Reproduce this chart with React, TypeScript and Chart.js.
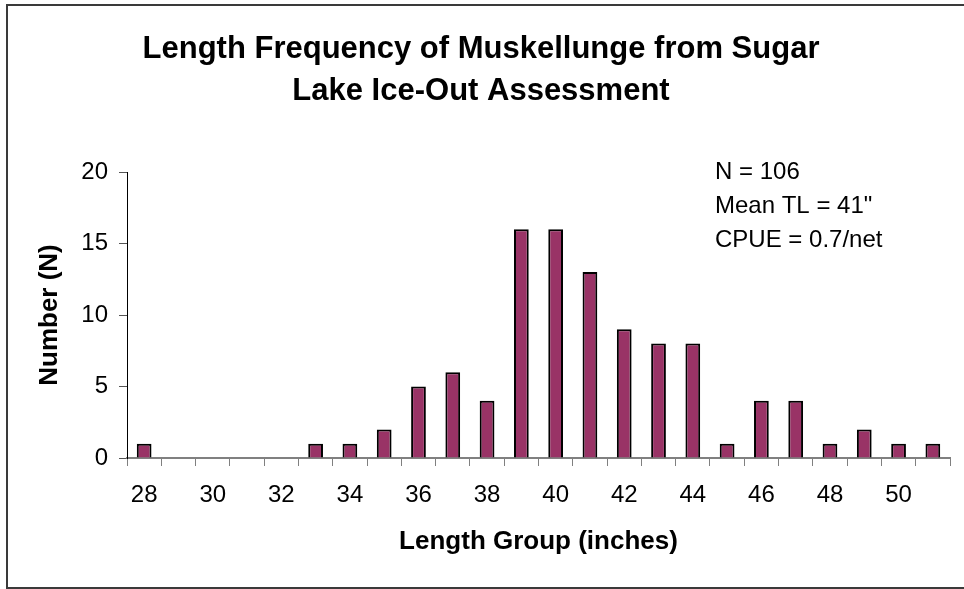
import React, { useEffect, useRef } from "react";
import { Chart, registerables } from "chart.js";

Chart.register(...registerables);

const lengthGroups = [
  "28", "29", "30", "31", "32", "33", "34", "35", "36", "37", "38", "39",
  "40", "41", "42", "43", "44", "45", "46", "47", "48", "49", "50", "51",
];
const counts = [1, 0, 0, 0, 0, 1, 1, 2, 5, 6, 4, 16, 16, 13, 9, 8, 8, 1, 4, 4, 1, 2, 1, 1];
const yTicks = [0, 5, 10, 15, 20];
const titleLines = ["Length Frequency of Muskellunge from Sugar", "Lake Ice-Out Assessment"];
const noteLines = ["N = 106", "Mean TL = 41\"", "CPUE = 0.7/net"];

const FONT = "'Liberation Sans', Arial, sans-serif";

const decorPlugin = {
  id: "decor",
  beforeDraw(chart: any) {
    const ctx = chart.ctx;
    ctx.save();
    ctx.fillStyle = "#ffffff";
    ctx.fillRect(0, 0, chart.width, chart.height);
    ctx.strokeStyle = "#3a3a3a";
    ctx.lineWidth = 2;
    ctx.strokeRect(7, 5, 1000, 583);
    ctx.restore();
  },
  afterDraw(chart: any) {
    const ctx = chart.ctx;
    ctx.save();
    ctx.fillStyle = "#000000";
    ctx.textBaseline = "alphabetic";
    ctx.textAlign = "center";
    ctx.font = `bold 31px ${FONT}`;
    ctx.fillText(titleLines[0], 481, 58);
    ctx.fillText(titleLines[1], 481, 100);
    ctx.textAlign = "left";
    ctx.font = `24px ${FONT}`;
    noteLines.forEach((t, i) => ctx.fillText(t, 715, 179 + i * 34));
    ctx.restore();
  },
};

export default function App() {
  const ref = useRef<HTMLCanvasElement | null>(null);

  useEffect(() => {
    if (!ref.current) return;
    const chart = new Chart(ref.current, {
      type: "bar",
      data: {
        labels: lengthGroups,
        datasets: [
          {
            data: counts,
            backgroundColor: "#993366",
            borderColor: "#000000",
            borderWidth: 2,
            categoryPercentage: 1,
            barPercentage: 0.43,
          },
        ],
      },
      options: {
        animation: false,
        responsive: false,
        maintainAspectRatio: false,
        layout: { padding: { top: 172, right: 14, left: 0, bottom: 0 } },
        plugins: {
          legend: { display: false },
          title: { display: false },
          tooltip: { enabled: false },
        },
        scales: {
          x: {
            offset: true,
            afterFit: (s: any) => {
              s.height = 131;
            },
            grid: {
              display: true,
              offset: true,
              drawOnChartArea: false,
              drawTicks: true,
              tickLength: 8,
              tickColor: "#808080",
              tickWidth: 1,
            },
            border: { display: true, color: "#808080", width: 2 },
            ticks: {
              autoSkip: false,
              maxRotation: 0,
              minRotation: 0,
              padding: 15,
              color: "#000000",
              font: { family: FONT, size: 24 },
              callback: (_v: any, i: number) => (i % 2 === 0 ? lengthGroups[i] : ""),
            },
            title: {
              display: true,
              text: "Length Group (inches)",
              color: "#000000",
              font: { family: FONT, size: 26, weight: "bold" },
              padding: { top: 0, bottom: 32 },
            },
          },
          y: {
            min: yTicks[0],
            max: yTicks[yTicks.length - 1],
            afterFit: (s: any) => {
              s.width = 127;
            },
            afterBuildTicks: (s: any) => {
              s.ticks = yTicks.map((v) => ({ value: v }));
            },
            grid: {
              display: true,
              drawOnChartArea: false,
              drawTicks: true,
              tickLength: 8,
              tickColor: "#555555",
              tickWidth: 1,
            },
            border: { display: true, color: "#000000", width: 1 },
            ticks: {
              padding: 11,
              color: "#000000",
              font: { family: FONT, size: 24 },
            },
            title: {
              display: true,
              text: "Number (N)",
              color: "#000000",
              font: { family: FONT, size: 26, weight: "bold" },
              padding: { top: 34, bottom: 0 },
            },
          },
        },
      },
      plugins: [decorPlugin],
    });
    return () => chart.destroy();
  }, []);

  return (
    <div style={{ position: "absolute", left: 0, top: 0, width: 964, height: 589 }}>
      <canvas ref={ref} width={964} height={589} style={{ width: 964, height: 589, display: "block" }} />
    </div>
  );
}
